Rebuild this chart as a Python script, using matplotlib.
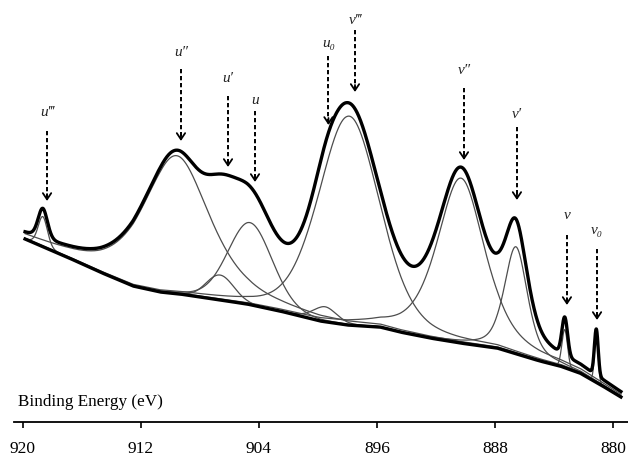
import numpy as np
import matplotlib
matplotlib.use('Agg')
import matplotlib.pyplot as plt

# ---------------- data ----------------
# background line (binding energy in eV, intensity in arbitrary units)
bg_energy = [919.86, 917.02, 914.78, 912.54, 910.71, 909.36, 907.12, 904.81,
             902.58, 899.86, 898.03, 895.80, 894.44, 892.41, 890.37, 887.86,
             886.31, 884.95, 883.59, 882.24, 880.81, 879.46]
bg_counts = [183, 165, 150, 136, 130, 128, 123, 118,
             111, 101, 97, 95, 90, 84, 79, 74,
             67, 61, 56, 49, 37, 25]

# fitted components (pseudo-Voigt): centre, height, FWHM, Lorentzian fraction
peak_names = ["u‴", "u″", "u′", "u", "u₀", "v‴", "v″", "v′", "v", "v₀"]
peak_center = [918.66, 909.60, 906.64, 904.61, 899.53, 897.90, 890.31, 886.58, 883.27, 881.13]
peak_height = [30, 138, 25, 82, 15, 209, 165, 107, 38, 46]
peak_fwhm = [0.75, 5.4, 2.2, 3.55, 1.9, 4.9, 3.8, 1.85, 0.45, 0.30]
peak_lorentz = [0.2, 0.6, 0.0, 0.15, 0.3, 0.3, 0.55, 0.5, 0.0, 0.0]

# annotation arrows: label, energy, arrow top, arrow tip, label height
label_names = ["u‴", "u″", "u′", "u", "u₀", "v‴", "v″", "v′", "v", "v₀"]
label_energy = [918.37, 909.29, 906.10, 904.27, 899.29, 897.49, 890.10, 886.51, 883.12, 881.08]
arrow_top = [291, 353, 326, 311, 366, 392, 334, 295, 187, 173]
arrow_tip = [221, 281, 255, 240, 297, 330, 262, 222, 117, 102]
label_y = [311, 371, 345, 323, 379, 403, 353, 308, 207, 192]

xticks = [920, 912, 904, 896, 888, 880]
xlabel = "Binding Energy (eV)"

# ---------------- drawing ----------------
def pseudo_voigt(e, c, h, f, eta):
    sigma = f / 2.3548
    gamma = f / 2.0
    g = np.exp(-(e - c) ** 2 / (2 * sigma ** 2))
    l = 1.0 / (1.0 + ((e - c) / gamma) ** 2)
    return h * ((1 - eta) * g + eta * l)

fig = plt.figure(figsize=(6.28, 4.56), dpi=100)
ax = fig.add_axes([14 / 628, 33 / 456, 614 / 628, 423 / 456])
ax.set_xlim(920.61, 878.98)
ax.set_ylim(0, 423)

E = np.linspace(max(bg_energy), min(bg_energy), 5000)
bg = np.interp(E, bg_energy[::-1], bg_counts[::-1])

total = np.zeros_like(E)
for c, h, f, eta in zip(peak_center, peak_height, peak_fwhm, peak_lorentz):
    comp = pseudo_voigt(E, c, h, f, eta)
    total += comp
    ax.plot(E, bg + comp, color='#4d4d4d', lw=0.9, zorder=2)

ax.plot(E, bg, color='black', lw=2.4, zorder=3)
ax.plot(E, bg + total, color='black', lw=2.4, zorder=4)

for name, e, top, tip, ly in zip(label_names, label_energy, arrow_top, arrow_tip, label_y):
    ax.plot([e, e], [top, tip + 3], color='black', lw=1.4,
            dashes=(2.2, 1.4), zorder=5)
    ax.annotate('', xy=(e, tip), xytext=(e, tip + 7),
                arrowprops=dict(arrowstyle='->,head_length=0.45,head_width=0.3',
                                color='black', lw=1.3, shrinkA=0, shrinkB=0),
                zorder=5)
    ax.text(e, ly, name, ha='center', va='center',
            fontsize=11, style='italic',
            family=['Liberation Serif', 'DejaVu Serif'], color='#222222')

ax.text((18 - 14) / 614, 21 / 423, xlabel, transform=ax.transAxes,
        ha='left', va='center', fontsize=12.3, family='Liberation Serif')

for s in ['top', 'right', 'left']:
    ax.spines[s].set_visible(False)
ax.spines['bottom'].set_linewidth(1.3)
ax.set_yticks([])
ax.set_xticks(xticks)
ax.set_xticklabels([str(t) for t in xticks], family='Liberation Serif', fontsize=12.5)
ax.tick_params(axis='x', direction='out', length=4, width=1.2, pad=9)

fig.savefig('out.png', dpi=100)
